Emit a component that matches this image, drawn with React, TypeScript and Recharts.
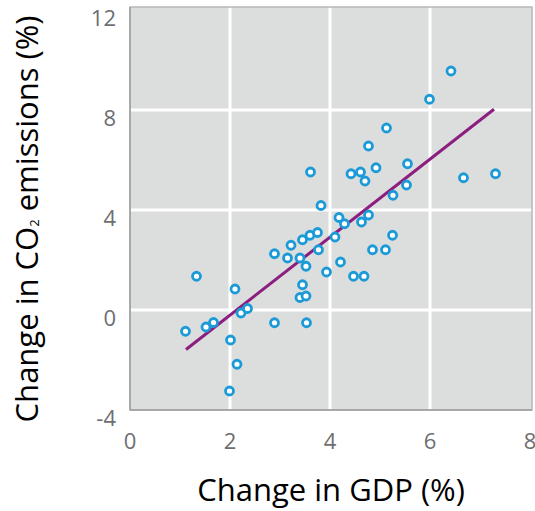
import {
  ScatterChart,
  Scatter,
  XAxis,
  YAxis,
  CartesianGrid,
  ReferenceArea,
} from "recharts";

const gdpChange = [
  1.11, 1.33, 1.52, 1.67, 1.99, 2.01, 2.1, 2.14, 2.22, 2.35, 2.89, 2.89, 3.15,
  3.22, 3.4, 3.4, 3.45, 3.45, 3.52, 3.52, 3.53, 3.6, 3.61, 3.75, 3.77, 3.82,
  3.93, 4.1, 4.18, 4.21, 4.29, 4.42, 4.47, 4.61, 4.63, 4.68, 4.7, 4.77, 4.77,
  4.85, 4.92, 5.11, 5.13, 5.25, 5.26, 5.53, 5.55, 5.99, 6.42, 6.67, 7.31,
];
const co2Change = [
  -0.85, 1.35, -0.68, -0.5, -3.24, -1.2, 0.84, -2.17, -0.12, 0.06, 2.25, -0.51,
  2.08, 2.59, 2.08, 0.5, 2.81, 1.01, 1.75, 0.56, -0.51, 2.99, 5.52, 3.1, 2.41,
  4.18, 1.52, 2.92, 3.7, 1.92, 3.45, 5.45, 1.35, 5.52, 3.52, 1.35, 5.16, 6.56,
  3.8, 2.41, 5.69, 2.41, 7.28, 2.99, 4.59, 5.0, 5.85, 8.43, 9.56, 5.29, 5.45,
];

// regression line end points
const fitGdp = [1.12, 7.28];
const fitCo2 = [-1.58, 8.03];

const xTicks = [0, 2, 4, 6, 8];
const yTicks = [-4, 0, 4, 8, 12];
const xGrid = [2, 4, 6];
const yGrid = [0, 4, 8];

const points = gdpChange.map((x, i) => ({ x, y: co2Change[i] }));
const fitLine = fitGdp.map((x, i) => ({ x, y: fitCo2[i] }));

const FONT = "'Open Sans', sans-serif";
const TICK_COLOR = "#6d6e71";

const XTick = (props: any) => {
  const { x, y, payload } = props;
  return (
    <text
      x={x}
      y={y}
      textAnchor="middle"
      dominantBaseline="central"
      fontFamily={FONT}
      fontSize={22}
      fill={TICK_COLOR}
    >
      {payload.value}
    </text>
  );
};

const YTick = (props: any) => {
  const { x, y, payload } = props;
  return (
    <text
      x={x}
      y={y + 7}
      textAnchor="end"
      dominantBaseline="central"
      fontFamily={FONT}
      fontSize={22}
      fill={TICK_COLOR}
    >
      {payload.value}
    </text>
  );
};

const XTitle = (props: any) => {
  const { viewBox } = props;
  return (
    <text
      x={viewBox.x + viewBox.width / 2}
      y={501}
      textAnchor="middle"
      fontFamily={FONT}
      fontSize={31}
      fill="#000"
    >
      Change in GDP (%)
    </text>
  );
};

const YTitle = () => (
  <text
    x={38}
    y={219}
    transform="rotate(-90 38 219)"
    textAnchor="middle"
    fontFamily={FONT}
    fontSize={31}
    fill="#000"
  >
    Change in CO
    <tspan fontSize={13} dy={1}>
      2
    </tspan>
    <tspan dy={-1}> emissions (%)</tspan>
  </text>
);

const Dot = (props: any) => (
  <circle
    cx={props.cx}
    cy={props.cy}
    r={4}
    fill="#ffffff"
    stroke="#1b9ad8"
    strokeWidth={2.8}
  />
);

export default function App() {
  return (
    <div style={{ position: "absolute", left: 0, top: 0, background: "#fff" }}>
      <ScatterChart
        width={535}
        height={511}
        margin={{ top: 7, right: 3, bottom: 0, left: 0 }}
      >
        <CartesianGrid
          fill="#dcdddd"
          stroke="#ffffff"
          strokeWidth={3}
          horizontalValues={yGrid}
          verticalValues={xGrid}
        />
        <XAxis
          type="number"
          dataKey="x"
          domain={[0, 8.04]}
          allowDataOverflow
          ticks={xTicks}
          interval={0}
          height={101}
          tickSize={0}
          tickMargin={30}
          tick={<XTick />}
          axisLine={{ stroke: "#9d9fa2", strokeWidth: 1.5 }}
          label={<XTitle />}
        />
        <YAxis
          type="number"
          dataKey="y"
          domain={[-4, 12.12]}
          allowDataOverflow
          ticks={yTicks}
          interval={0}
          width={130}
          tickSize={0}
          tickMargin={14}
          tick={<YTick />}
          axisLine={{ stroke: "#9d9fa2", strokeWidth: 1.5 }}
          label={<YTitle />}
        />
        <ReferenceArea
          x1={0}
          x2={8.04}
          y1={-4}
          y2={12.12}
          fill="none"
          stroke="#b5b7b9"
          strokeWidth={1.5}
        />
        <Scatter
          data={fitLine}
          line={{ stroke: "#8b1e7f", strokeWidth: 3 }}
          lineType="joint"
          shape={() => <g />}
          isAnimationActive={false}
        />
        <Scatter data={points} shape={<Dot />} isAnimationActive={false} />
      </ScatterChart>
    </div>
  );
}
